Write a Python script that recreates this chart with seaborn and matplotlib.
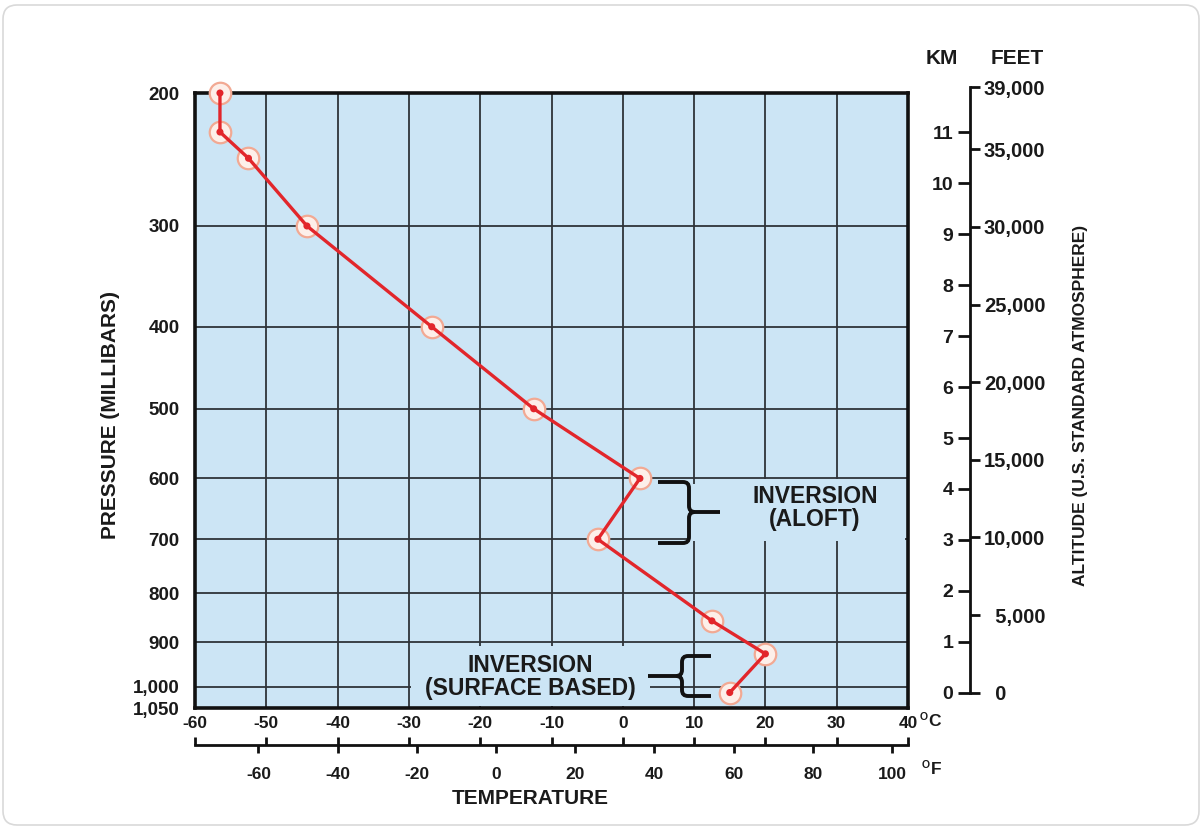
import numpy as np
import pandas as pd
import matplotlib
matplotlib.use('Agg')
import matplotlib.pyplot as plt
import matplotlib.transforms as mtransforms
from matplotlib.path import Path
from matplotlib.patches import PathPatch, Rectangle, FancyBboxPatch
from matplotlib.ticker import FuncFormatter
import seaborn as sns

# ---------------- data ----------------
temperature_c = [-56.5, -56.5, -52.5, -44.3, -26.8, -12.5, 2.4, -3.5, 12.5, 20.0, 15.0]
pressure_mb = [200, 226, 245, 300, 400, 500, 600, 700, 855, 925, 1013]

pressure_ticks = [200, 300, 400, 500, 600, 700, 800, 900, 1000, 1050]
celsius_ticks = [-60, -50, -40, -30, -20, -10, 0, 10, 20, 30, 40]
fahrenheit_ticks = [-60, -40, -20, 0, 20, 40, 60, 80, 100]
km_ticks = [0, 1, 2, 3, 4, 5, 6, 7, 8, 9, 10, 11]
feet_ticks = [0, 5000, 10000, 15000, 20000, 25000, 30000, 35000, 39000]

# ---------------- style ----------------
W, H = 1202, 831
sns.set_theme(style='white')
plt.rcParams['font.family'] = ['Liberation Sans', 'DejaVu Sans']
plt.rcParams['font.weight'] = 'bold'
plt.rcParams['axes.unicode_minus'] = False
TXT = '#1a1a1a'
BG = '#cce5f5'
RED = '#e2262b'

fig = plt.figure(figsize=(W / 100, H / 100), dpi=100)
fig.patch.set_facecolor('white')
px = mtransforms.Affine2D().scale(1 / W, -1 / H).translate(0, 1) + fig.transFigure


def fx(x):
    return x / W


def fy(y):
    return 1 - y / H


def p_to_alt(p):
    p = np.clip(np.asarray(p, float), 1e-6, None)
    return 44.3308 * (1 - (p / 1013.25) ** 0.190263)


def alt_to_p(h):
    h = np.asarray(h, float)
    return 1013.25 * np.clip(1 - h / 44.3308, 1e-9, None) ** (1 / 0.190263)


L, R, T, B = 195, 908, 93, 708
ax = fig.add_axes([fx(L), fy(B), (R - L) / W, (B - T) / H])
ax.set_yscale('function', functions=(lambda p: -p_to_alt(p), lambda v: alt_to_p(-v)))
ax.set_facecolor(BG)

df = pd.DataFrame({'T': temperature_c, 'P': pressure_mb})
sns.scatterplot(data=df, x='T', y='P', s=240, color='#fdefe9', edgecolor='#f2a993',
                linewidth=1.6, zorder=3, ax=ax, clip_on=False, legend=False)
sns.lineplot(data=df, x='T', y='P', sort=False, estimator=None, color=RED, lw=2.4,
             zorder=4, ax=ax, legend=False)
sns.scatterplot(data=df, x='T', y='P', s=26, color=RED, edgecolor='none', zorder=5,
                ax=ax, clip_on=False, legend=False)

ax.set_xlim(-60, 40)
ax.set_ylim(1050, 200)
ax.set_xticks(celsius_ticks)
ax.set_yticks(pressure_ticks)
ax.yaxis.set_major_formatter(FuncFormatter(lambda v, _: f'{int(round(v)):,}'))
ax.xaxis.set_major_formatter(FuncFormatter(lambda v, _: f'{int(round(v))}'))
ax.minorticks_off()
ax.set_axisbelow(True)
ax.grid(True, color='#2e3338', lw=1.3)
ax.tick_params(axis='y', length=0, pad=11, labelsize=13.5, labelcolor=TXT)
ax.tick_params(axis='x', length=0, pad=6, labelsize=12.5, labelcolor=TXT)
ax.set_xlabel('')
ax.set_ylabel('')
for s in ax.spines.values():
    s.set_color('#111111')
    s.set_linewidth(2.6)

# masks behind annotation texts
for (x0, y0, x1, y1) in [(411, 646, 650, 706), (690, 484, 732, 541), (732, 479, 905, 541)]:
    ax.add_patch(Rectangle((x0, y0), x1 - x0, y1 - y0, transform=px, facecolor=BG,
                           edgecolor='none', zorder=1.5, clip_on=False))


def brace(xa, xs, xt, yt, ym, yb, r=6):
    d = 1 if xt > xs else -1
    for ye, sgn in [(yt, 1), (yb, -1)]:
        verts = [(xa, ye), (xs - d * r, ye), (xs, ye), (xs, ye + sgn * r),
                 (xs, ym - sgn * r), (xs, ym), (xs + d * r, ym)]
        codes = [Path.MOVETO, Path.LINETO, Path.CURVE3, Path.CURVE3,
                 Path.LINETO, Path.CURVE3, Path.CURVE3]
        fig.add_artist(PathPatch(Path(verts, codes), transform=px, fill=False,
                                 lw=2.8, edgecolor='#111111', capstyle='butt', zorder=6))
    fig.add_artist(PathPatch(Path([(xs, ym), (xt, ym)]), transform=px, fill=False,
                             lw=2.8, edgecolor='#111111', zorder=6))


brace(658, 689, 720, 482, 512, 543)
brace(711, 682, 648, 656, 676, 696)

fig.text(fx(815), fy(508), 'INVERSION\n(ALOFT)', ha='center', va='center',
         fontsize=16.5, linespacing=0.95, color=TXT)
fig.text(fx(530), fy(677), 'INVERSION\n(SURFACE BASED)', ha='center', va='center',
         fontsize=16.5, linespacing=0.95, color=TXT)

# pressure label
fig.text(fx(110), fy(415), 'PRESSURE (MILLIBARS)', rotation=90, ha='center',
         va='center', fontsize=15, color=TXT)

# ---------------- fahrenheit scale ----------------
axf = fig.add_axes([fx(L), fy(745), (R - L) / W, 1e-5])
axf.set_xlim(-60 * 9 / 5 + 32, 40 * 9 / 5 + 32)
axf.set_xticks(fahrenheit_ticks)
axf.set_yticks([])
axf.patch.set_alpha(0)
for k, s in axf.spines.items():
    s.set_visible(k == 'bottom')
axf.spines['bottom'].set_linewidth(2.0)
axf.spines['bottom'].set_color('#111111')
axf.tick_params(axis='x', direction='out', length=6, width=2, pad=10, labelsize=12.5,
                labelcolor=TXT, color='#111111')
axc = axf.twiny()
axc.set_xlim(-60, 40)
axc.set_xticks(celsius_ticks)
axc.xaxis.set_ticks_position('bottom')
axc.tick_params(axis='x', direction='in', length=6, width=2, labelbottom=False,
                labeltop=False, color='#111111')
for s in axc.spines.values():
    s.set_visible(False)
axc.patch.set_alpha(0)

fig.text(fx(920), fy(717), 'O', fontsize=7.5, ha='left', va='center', color=TXT)
fig.text(fx(928), fy(722), 'C', fontsize=12.5, ha='left', va='center', color=TXT)
fig.text(fx(922), fy(765), 'O', fontsize=7.5, ha='left', va='center', color=TXT)
fig.text(fx(931), fy(770), 'F', fontsize=12.5, ha='left', va='center', color=TXT)
fig.text(fx(530), fy(798), 'TEMPERATURE', ha='center', va='center', fontsize=15,
         color=TXT)

# ---------------- altitude scale ----------------
TOPR = 78
km_per_px = (p_to_alt(200) - p_to_alt(1050)) / (B - T)
km_lo = float(p_to_alt(1050))
km_hi = km_lo + (B - TOPR) * km_per_px
axr = fig.add_axes([fx(970), fy(B), 1e-5, (B - TOPR) / H])
axr.set_ylim(km_lo, km_hi)
axr.set_xticks([])
axr.set_yticks(km_ticks)
axr.patch.set_alpha(0)
for k, s in axr.spines.items():
    s.set_visible(k == 'left')
axr.spines['left'].set_bounds(0, 39000 * 0.0003048)
axr.spines['left'].set_linewidth(2.0)
axr.spines['left'].set_color('#111111')
axr.tick_params(axis='y', direction='out', length=9, width=2, pad=3, labelsize=14,
                labelcolor=TXT, color='#111111')
axft = axr.twinx()
axft.set_ylim(km_lo / 0.0003048, km_hi / 0.0003048)
axft.set_yticks(feet_ticks)


def feet_fmt(v, _):
    s = f'{int(round(v)):,}'
    return ('\u2007' + s) if len(s) < 6 else s


axft.yaxis.set_major_formatter(FuncFormatter(feet_fmt))
axft.tick_params(axis='y', direction='out', length=7, width=2, pad=3, labelsize=14.5,
                 labelcolor=TXT, color='#111111')
for s in axft.spines.values():
    s.set_visible(False)
axft.patch.set_alpha(0)

fig.text(fx(942), fy(58), 'KM', ha='center', va='center', fontsize=15, color=TXT)
fig.text(fx(1017), fy(58), 'FEET', ha='center', va='center', fontsize=15, color=TXT)
fig.text(fx(1080), fy(405), 'ALTITUDE (U.S. STANDARD ATMOSPHERE)', rotation=90,
         ha='center', va='center', fontsize=12.5, color=TXT)

# outer frame
fig.add_artist(FancyBboxPatch((3, 5), 1196, 820, transform=px,
                              boxstyle='round,pad=0,rounding_size=14',
                              facecolor='none', edgecolor='#d9d9d9', lw=1.2, zorder=0))

fig.savefig('out.png', dpi=100)
